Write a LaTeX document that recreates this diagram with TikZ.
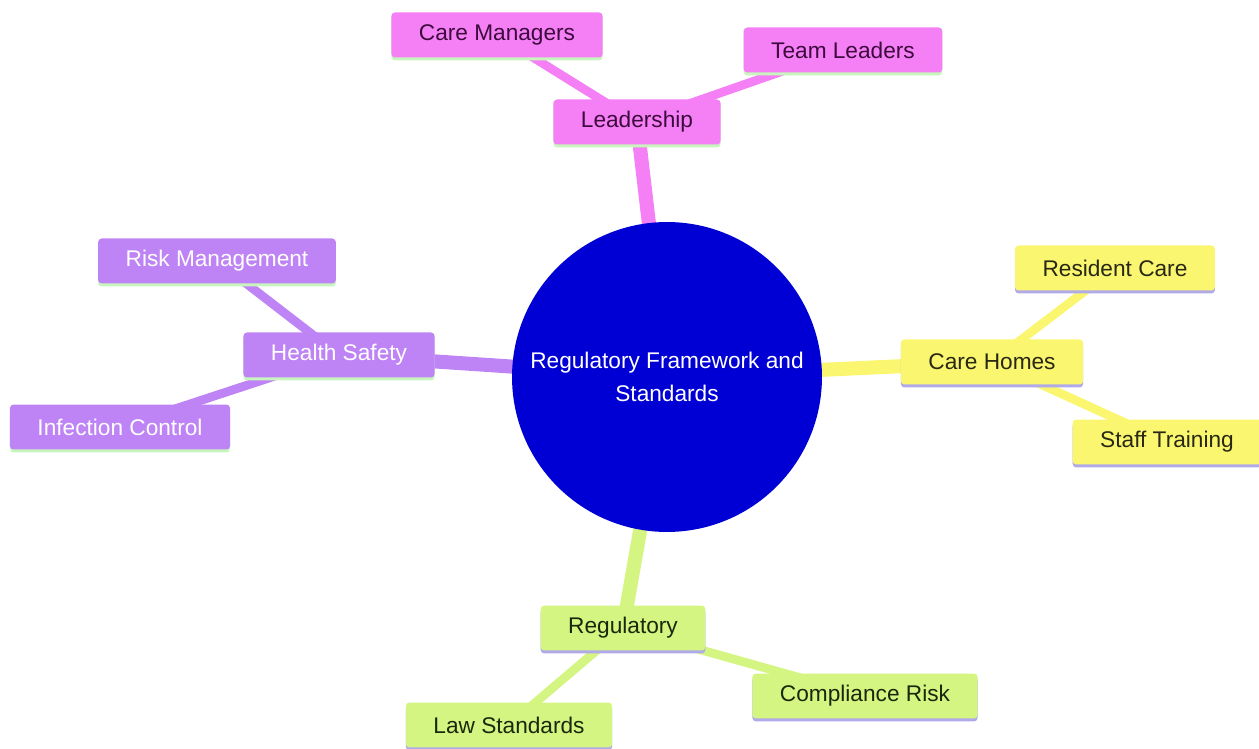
\documentclass[tikz,border=0pt]{standalone}
\usepackage{fontspec}
\setmainfont{Liberation Sans}
\usepackage{tikz}
\usetikzlibrary{shadows,backgrounds}

\definecolor{leadpink}{RGB}{245,128,245}
\definecolor{safetypurple}{RGB}{190,132,245}
\definecolor{homesyellow}{RGB}{250,246,112}
\definecolor{reggreen}{RGB}{212,245,130}
\definecolor{coreblue}{RGB}{0,0,212}
\definecolor{mintline}{RGB}{200,245,190}
\definecolor{lavline}{RGB}{176,170,232}

\tikzset{
  topic/.style={rectangle, rounded corners=2pt, minimum height=0.9cm, inner xsep=0.55cm,
    font=\fontsize{12.9}{15}\selectfont},
  pinkbox/.style={topic, fill=leadpink, text={rgb,255:red,60;green,10;blue,60},
    general shadow={fill=mintline, shadow yshift=-0.06cm}},
  purplebox/.style={topic, fill=safetypurple, text=white,
    general shadow={fill=mintline, shadow yshift=-0.06cm}},
  yellowbox/.style={topic, fill=homesyellow, text={rgb,255:red,40;green,40;blue,20},
    general shadow={fill=lavline, shadow yshift=-0.06cm}},
  greenbox/.style={topic, fill=reggreen, text={rgb,255:red,25;green,40;blue,10},
    general shadow={fill=lavline, shadow yshift=-0.06cm}},
  trunk/.style={line width=8pt},
  twig/.style={line width=5pt}
}

\begin{document}
\begin{tikzpicture}[x=0.02cm,y=-0.02cm]
  \useasboundingbox (0,0) rectangle (1259,749);
  \node[circle, fill=coreblue, minimum size=6.2cm, text=white, align=center,
    font=\fontsize{12.9}{19}\selectfont] (core) at (667,377) {Regulatory Framework and\\Standards};

  \node[pinkbox] (lead) at (637,122) {Leadership};
  \node[pinkbox] (mgrs) at (497,35) {Care Managers};
  \node[pinkbox] (team) at (843,50) {Team Leaders};

  \node[purplebox] (safety) at (339,355) {Health Safety};
  \node[purplebox] (risk) at (217,261) {Risk Management};
  \node[purplebox] (infect) at (120,427) {Infection Control};

  \node[yellowbox] (homes) at (992,362) {Care Homes};
  \node[yellowbox] (resident) at (1115,268) {Resident Care};
  \node[yellowbox] (training) at (1167,442) {Staff Training};

  \node[greenbox] (reg) at (623,628) {Regulatory};
  \node[greenbox] (law) at (509,725) {Law Standards};
  \node[greenbox] (comply) at (865,696) {Compliance Risk};

  \begin{scope}[on background layer]
    \draw[trunk, leadpink] (core.center) -- (lead.center);
    \draw[twig, leadpink] (lead.center) -- (mgrs.center);
    \draw[twig, leadpink] (lead.center) -- (team.center);
    \draw[trunk, safetypurple] (core.center) -- (safety.center);
    \draw[twig, safetypurple] (safety.center) -- (risk.center);
    \draw[twig, safetypurple] (safety.center) -- (infect.center);
    \draw[trunk, homesyellow] (core.center) -- (homes.center);
    \draw[twig, homesyellow] (homes.center) -- (resident.center);
    \draw[twig, homesyellow] (homes.center) -- (training.center);
    \draw[trunk, reggreen] (core.center) -- (reg.center);
    \draw[twig, reggreen] (reg.center) -- (law.center);
    \draw[twig, reggreen] (reg.center) -- (comply.center);
  \end{scope}
\end{tikzpicture}
\end{document}
